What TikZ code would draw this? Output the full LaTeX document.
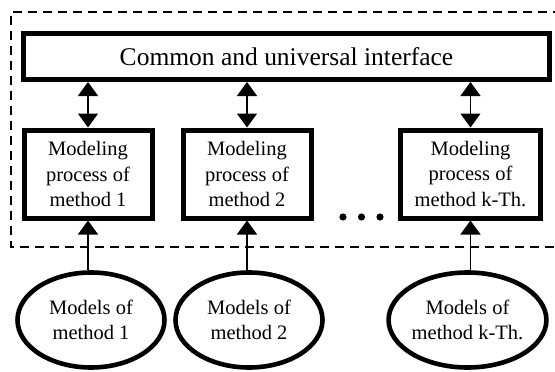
\documentclass[tikz,border=0pt]{standalone}
\usepackage{fontspec}
\setmainfont{Liberation Serif}
\usetikzlibrary{arrows.meta,shapes.geometric}
\begin{document}
\begin{tikzpicture}[x=1pt,y=-1pt,
  interface/.style={draw, line width=5pt, minimum width=526pt, minimum height=46pt,
    inner sep=0pt, font=\fontsize{25.5}{30}\selectfont},
  procbox/.style={draw, line width=5pt, minimum height=88pt, inner sep=0pt,
    align=center, font=\fontsize{20.5}{25.5}\selectfont},
  modelell/.style={draw, ellipse, line width=4.6pt, minimum width=147pt, minimum height=95pt,
    inner sep=0pt, align=center, font=\fontsize{20.5}{25.5}\selectfont},
  link/.style={line width=1.5pt, -{Triangle[width=20pt,length=14pt]}},
  duplink/.style={line width=1.5pt, {Triangle[width=20pt,length=14pt]}-{Triangle[width=20pt,length=14pt]}},
  frame/.style={dashed, line width=1.7pt, dash pattern=on 9pt off 6pt}
]
\useasboundingbox (0,0) rectangle (555,372);

% dashed frame around the interface and the modeling processes
\draw[frame] (562,12) -- (11,12) -- (11,247) -- (562,247);

% common interface
\node[interface] (ci) at (286.5,56.5) {Common and universal interface};

% modeling processes
\node[procbox, minimum width=128pt] (p1) at (88,174) {Modeling\\process of\\method 1};
\node[procbox, minimum width=128pt] (p2) at (247,174) {Modeling\\process of\\method 2};
\node[procbox, minimum width=140pt] (pk) at (470.5,174) {Modeling\\process of\\method k-Th.};

% ellipsis between the processes
\fill (343,217) circle (3.6pt) (361.5,217) circle (3.6pt) (380,217) circle (3.6pt);

% models of each method
\node[modelell] (m1) at (91,320) {Models of\\method 1};
\node[modelell] (m2) at (249,320) {Models of\\method 2};
\node[modelell] (mk) at (467.5,320) {Models of\\method k-Th.};

% links between interface and processes
\draw[duplink] (ci.south -| p1) -- (p1.north);
\draw[duplink] (ci.south -| p2) -- (p2.north);
\draw[duplink] (ci.south -| pk) -- (pk.north);

% links from models to processes
\draw[link] (p1.south |- m1.north) -- (p1.south);
\draw[link] (p2.south |- m2.north) -- (p2.south);
\draw[link] (pk.south |- mk.north) -- (pk.south);
\end{tikzpicture}
\end{document}
